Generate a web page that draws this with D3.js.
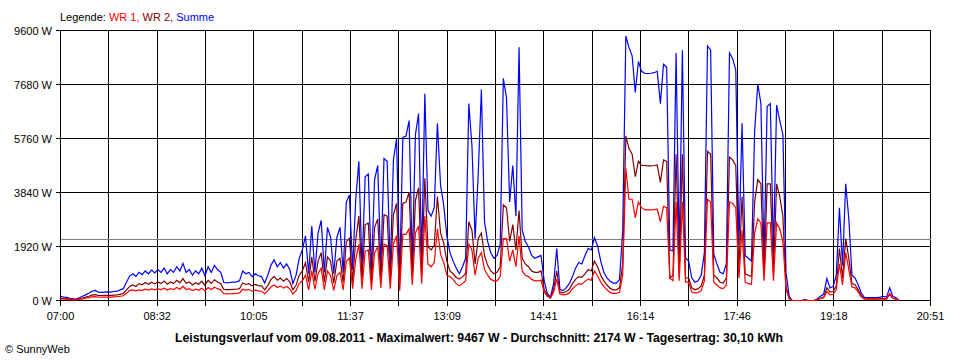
<!DOCTYPE html>
<html><head><meta charset="utf-8">
<script src="https://cdn.jsdelivr.net/npm/d3@7"></script>
<style>body{margin:0;background:#fff}svg{display:block}text{font-family:"Liberation Sans",Arial,sans-serif}</style>
</head><body><svg id="c" width="960" height="360"></svg>
<script>
// ---- data ----
const yTicks = [0, 1920, 3840, 5760, 7680, 9600];
const xTickLabels = ["07:00","08:32","10:05","11:37","13:09","14:41","16:14","17:46","19:18","20:51"];
const dayMinutes = 831;      // 07:00 .. 20:51
const sampleStepMin = 3;     // one sample every 3 minutes from 07:00
const average = 2174;
const legendItems = ["WR 1", "WR 2", "Summe"];
const titleText = "Leistungsverlauf vom 09.08.2011 - Maximalwert: 9467 W - Durchschnitt: 2174 W - Tagesertrag: 30,10 kWh";

const summe = [
150,120,110,80,60,50,100,150,200,260,
330,360,300,290,300,310,300,320,330,380,
420,650,870,950,860,1000,920,1050,950,1080,
980,1100,1000,1150,950,1100,1000,1200,1050,1320,
1000,1100,900,1050,950,1150,880,1200,1000,1250,
1100,1000,640,630,640,650,660,700,1050,950,
1000,850,950,880,850,620,900,1250,1450,1200,
1350,1150,1300,1100,600,900,1500,1800,2300,950,
2650,1000,2400,2850,1000,2600,2250,950,2250,2600,
1000,3500,3750,1100,3600,4950,1100,4400,4500,1000,
4300,4800,1200,5050,4950,1100,5000,5750,900,5800,
5850,6400,1300,5900,6650,1500,7350,3200,3000,3300,
6300,4100,3400,2300,1700,1400,1150,950,1200,1500,
7000,5500,2200,4500,7500,2800,2100,1700,1500,1600,
2000,7900,7200,3500,4800,3000,9000,2500,2100,1900,
1600,1500,1550,1600,700,250,120,600,1850,400,
350,450,600,850,1150,1350,1300,1600,1850,1800,
2230,1950,1400,1000,800,680,620,620,750,2500,
9400,9000,8700,7400,8500,8150,8080,8070,8080,8100,
8150,7000,8400,8300,1800,1760,8800,1600,8900,1500,
1400,800,650,700,900,1700,9050,8900,1650,1300,
1000,950,1300,8800,8600,8200,2000,6300,1600,1500,
1400,6000,7700,7000,1500,6900,7000,1700,6950,6400,
5900,1000,150,0,0,0,0,30,0,0,
0,60,150,230,780,450,500,900,3300,1250,
4150,2900,900,800,550,250,100,100,100,100,
100,120,150,120,450,150,100,0];

const wr2 = [
90,70,60,50,40,30,60,90,120,150,
190,210,180,175,180,185,180,190,195,220,
250,380,500,550,500,600,560,640,580,650,
590,660,600,690,580,660,600,720,630,780,
610,660,550,630,580,690,540,720,610,740,
660,600,390,385,390,395,400,420,620,570,
600,520,570,530,520,380,540,740,860,720,
800,690,780,660,380,540,900,1050,1350,650,
1550,680,1400,1700,650,1550,1400,620,1400,1500,
640,2100,2200,680,2150,3000,700,2700,2750,650,
2600,2900,750,3050,3000,700,3050,3450,620,3450,
3500,3850,800,3550,4000,900,4350,1900,1800,1950,
3700,2400,2050,1400,1050,950,820,760,850,950,
2800,2500,1300,2200,2400,1600,1250,1050,950,1000,
1200,3400,3300,2100,2700,1800,3200,1500,1300,1200,
1050,1000,1000,1050,400,180,100,400,1050,300,
270,320,400,600,750,850,820,950,1100,1050,
1400,1200,900,700,550,430,380,380,450,1300,
5850,5400,5200,4400,4950,4800,4800,4790,4790,4800,
4820,4200,5000,4950,800,900,5200,850,5200,800,
800,450,380,420,520,900,5300,5200,900,800,
650,620,800,5100,5000,4800,1100,3700,950,900,
850,3500,4300,4150,900,4150,4150,1000,4150,3700,
3000,500,80,0,0,0,0,10,0,0,
0,30,80,120,450,300,320,520,1850,800,
2200,1500,600,560,380,150,60,60,60,60,
60,70,80,70,220,80,50,0];

const wr1 = [
60,50,50,30,20,20,40,60,80,100,
130,140,120,115,120,125,120,130,135,150,
170,260,350,380,340,380,360,400,370,410,
380,420,390,440,370,420,390,460,400,500,
390,420,350,400,370,440,340,460,390,470,
420,380,240,235,240,245,250,270,400,370,
390,330,370,340,330,240,350,480,550,460,
520,440,500,420,230,350,600,700,900,380,
1050,400,950,1150,380,1050,880,360,880,1000,
380,1400,1500,420,1450,2000,420,1750,1800,380,
1700,1900,450,2000,1950,420,2000,2300,350,2350,
2350,2550,550,2400,2650,600,3000,1300,1200,1350,
2550,1650,1350,900,850,750,600,520,600,700,
2000,1800,900,1500,1700,1100,900,750,700,700,
850,2200,2200,1400,1800,1200,2300,1050,900,850,
750,700,700,720,300,150,80,300,760,230,
200,220,260,420,520,600,580,680,760,720,
1050,880,650,500,380,280,250,250,300,900,
4700,3600,3600,2950,3500,3300,3230,3220,3220,3230,
3250,2800,3350,3300,800,700,3500,700,3500,650,
650,300,270,280,350,700,3600,3500,650,550,
450,420,550,3500,3450,3300,800,2500,650,600,
580,2400,2900,2760,700,2760,2760,700,2760,2550,
2100,400,60,0,0,0,0,10,0,0,
0,30,70,100,320,200,220,380,1300,550,
1700,1100,480,450,300,120,50,50,50,50,
50,50,60,50,250,80,50,0];

// ---- chart ----
const svg = d3.select("#c");
const x = d3.scaleLinear().domain([0, dayMinutes]).range([60.5, 930.5]);
const y = d3.scaleLinear().domain([0, 9600]).range([300.5, 30.5]);
const nGrid = 18;
const gridMinutes = d3.range(nGrid + 1).map(i => i * dayMinutes / nGrid);

const g = svg.append("g").attr("shape-rendering", "crispEdges");
g.selectAll(".hg").data(yTicks).join("line")
  .attr("x1", x(0)).attr("x2", x(dayMinutes))
  .attr("y1", d => y(d)).attr("y2", d => y(d))
  .attr("stroke", "#000").attr("stroke-width", 1);
g.selectAll(".vg").data(gridMinutes).join("line")
  .attr("x1", d => Math.round(x(d) - 0.5) + 0.5).attr("x2", d => Math.round(x(d) - 0.5) + 0.5)
  .attr("y1", y(9600)).attr("y2", y(0) + 5)
  .attr("stroke", "#000").attr("stroke-width", 1);
g.selectAll(".yt").data(yTicks).join("line")
  .attr("x1", x(0) - 5).attr("x2", x(0))
  .attr("y1", d => y(d)).attr("y2", d => y(d))
  .attr("stroke", "#000");

g.append("line")
  .attr("x1", x(0)).attr("x2", x(dayMinutes))
  .attr("y1", Math.round(y(average) - 0.5) + 0.5).attr("y2", Math.round(y(average) - 0.5) + 0.5)
  .attr("stroke", "#808080").attr("stroke-width", 1);

svg.selectAll(".yl").data(yTicks).join("text")
  .attr("x", 52).attr("y", d => y(d) + 4)
  .attr("text-anchor", "end").attr("font-size", 11).text(d => d + " W");
svg.selectAll(".xl").data(xTickLabels).join("text")
  .attr("x", (d, i) => x(gridMinutes[i * 2])).attr("y", 320)
  .attr("text-anchor", "middle").attr("font-size", 11).text(d => d);

const line = d3.line()
  .x((d, i) => x(i * sampleStepMin))
  .y(d => y(d))
  .curve(d3.curveLinear);
const series = [
  {data: summe, color: "#0000ff"},
  {data: wr2, color: "#800000"},
  {data: wr1, color: "#ff0000"}
];
svg.append("g").selectAll("path").data(series).join("path")
  .attr("d", d => line(d.data))
  .attr("fill", "none").attr("stroke", d => d.color).attr("stroke-width", 1.2);

const legColors = ["#ff0000", "#800000", "#0000ff"];
const leg = svg.append("text").attr("x", 60).attr("y", 21).attr("font-size", 11);
leg.append("tspan").attr("fill", "#000").text("Legende: ");
legendItems.forEach((t, i) => {
  leg.append("tspan").attr("fill", legColors[i]).text(t + (i < legendItems.length - 1 ? ", " : ""));
});

svg.append("text").attr("x", 479).attr("y", 342).attr("text-anchor", "middle")
  .attr("font-size", 12).attr("font-weight", "bold")
  .attr("textLength", 608).attr("lengthAdjust", "spacingAndGlyphs")
  .text(titleText);

svg.append("text").attr("x", 5).attr("y", 353).attr("font-size", 11).text("\u00A9 SunnyWeb");
</script></body></html>
